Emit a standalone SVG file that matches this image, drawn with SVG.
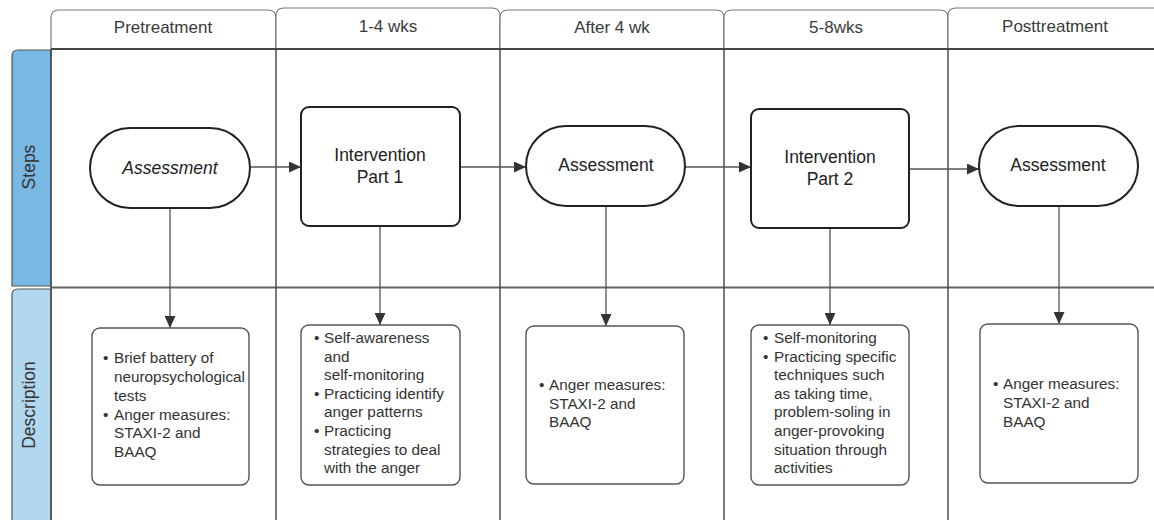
<svg xmlns="http://www.w3.org/2000/svg" width="1154" height="520" viewBox="0 0 1154 520">
<style>
text{font-family:"Liberation Sans",Arial,sans-serif;fill:#333}
.hdr{fill:#fff;stroke:#7a7a7a;stroke-width:1.2}
.ht{font-size:17px;text-anchor:middle;fill:#3a3a3a}
.lane{stroke:#444;stroke-width:1.4;fill:none}
.node{fill:#fff;stroke:#222;stroke-width:2}
.nt{font-size:17.5px;text-anchor:middle;fill:#222}
.desc{fill:#fff;stroke:#555;stroke-width:1.4}
.dt{font-size:15.3px}
.conn{stroke:#555;stroke-width:1.3;fill:none}
</style>
<defs>
<marker id="ah" viewBox="0 0 12 11" refX="12" refY="5.5" markerWidth="12" markerHeight="11" markerUnits="userSpaceOnUse" orient="auto">
<path d="M0,0 L12,5.5 L0,11 Z" fill="#333"/>
</marker>
</defs>
<rect width="1154" height="520" fill="#fff"/>

<g id="headers">
<path class="hdr" d="M51,49 V18 Q51,10 59,10 H268 Q276,10 276,18 V49"/>
<path class="hdr" d="M276,49 V16 Q276,8 284,8 H492 Q500,8 500,16 V49"/>
<path class="hdr" d="M500,49 V18 Q500,10 508,10 H716 Q724,10 724,18 V49"/>
<path class="hdr" d="M724,49 V18 Q724,10 732,10 H940 Q948,10 948,18 V49"/>
<path class="hdr" d="M948,49 V16 Q948,8 956,8 H1160 V49"/>
<text class="ht" x="163" y="33">Pretreatment</text>
<text class="ht" x="388" y="32">1-4 wks</text>
<text class="ht" x="612" y="33">After 4 wk</text>
<text class="ht" x="836" y="33">5-8wks</text>
<text class="ht" x="1055" y="32">Posttreatment</text>
</g>

<g id="lanes">
<path d="M12,286 V56 Q12,50 18,50 H51 V286 Z" fill="#7ab8e4" stroke="#555" stroke-width="1.2"/>
<path d="M12,530 V295 Q12,289 18,289 H51 V530 Z" fill="#b2d8f0" stroke="#555" stroke-width="1.2"/>
<text transform="translate(35,167) rotate(-90)" font-size="17.5" text-anchor="middle">Steps</text>
<text transform="translate(35,405) rotate(-90)" font-size="17.5" text-anchor="middle">Description</text>
<line x1="51" y1="49" x2="1154" y2="49" stroke="#444" stroke-width="2"/>
<line x1="51" y1="287.5" x2="1154" y2="287.5" stroke="#666" stroke-width="1.8"/>
<line class="lane" x1="51" y1="49" x2="51" y2="520"/>
<line class="lane" x1="276" y1="49" x2="276" y2="520"/>
<line class="lane" x1="500" y1="49" x2="500" y2="520"/>
<line class="lane" x1="724" y1="49" x2="724" y2="520"/>
<line class="lane" x1="948" y1="49" x2="948" y2="520"/>
</g>

<g id="connectors">
<line class="conn" x1="250" y1="167" x2="301" y2="167" marker-end="url(#ah)"/>
<line class="conn" x1="460" y1="167" x2="526" y2="167" marker-end="url(#ah)"/>
<line class="conn" x1="685" y1="167" x2="751" y2="167" marker-end="url(#ah)"/>
<line class="conn" x1="909" y1="169" x2="979" y2="169" marker-end="url(#ah)"/>
<line class="conn" x1="170" y1="208" x2="170" y2="328" marker-end="url(#ah)"/>
<line class="conn" x1="380" y1="226" x2="380" y2="325" marker-end="url(#ah)"/>
<line class="conn" x1="606" y1="206" x2="606" y2="326" marker-end="url(#ah)"/>
<line class="conn" x1="830" y1="228" x2="830" y2="325" marker-end="url(#ah)"/>
<line class="conn" x1="1059" y1="206" x2="1059" y2="324" marker-end="url(#ah)"/>
</g>

<g id="assessment1">
<rect class="node" x="90" y="128" width="160" height="80" rx="40"/>
<text class="nt" x="170" y="174" font-style="italic">Assessment</text>
</g>
<g id="intervention1">
<rect class="node" x="301" y="107" width="159" height="119" rx="8"/>
<text class="nt" x="380" y="161">Intervention</text>
<text class="nt" x="380" y="183">Part 1</text>
</g>
<g id="assessment2">
<rect class="node" x="526" y="126" width="159" height="80" rx="40"/>
<text class="nt" x="606" y="171">Assessment</text>
</g>
<g id="intervention2">
<rect class="node" x="751" y="109" width="158" height="119" rx="8"/>
<text class="nt" x="830" y="163">Intervention</text>
<text class="nt" x="830" y="185">Part 2</text>
</g>
<g id="assessment3">
<rect class="node" x="979" y="126" width="159" height="80" rx="40"/>
<text class="nt" x="1058" y="171">Assessment</text>
</g>

<g id="desc1">
<rect class="desc" x="92" y="328" width="157" height="157" rx="8"/>
<text class="dt"><tspan x="103" y="363">•</tspan><tspan x="114" y="363">Brief battery of</tspan><tspan x="114" y="382">neuropsychological</tspan><tspan x="114" y="401">tests</tspan><tspan x="103" y="420">•</tspan><tspan x="114" y="420">Anger measures:</tspan><tspan x="114" y="438">STAXI-2 and</tspan><tspan x="114" y="457">BAAQ</tspan></text>
</g>
<g id="desc2">
<rect class="desc" x="301" y="325" width="159" height="160" rx="8"/>
<text class="dt"><tspan x="314" y="343">•</tspan><tspan x="324" y="343">Self-awareness</tspan><tspan x="324" y="362">and</tspan><tspan x="324" y="380">self-monitoring</tspan><tspan x="314" y="399">•</tspan><tspan x="324" y="399">Practicing identify</tspan><tspan x="324" y="417">anger patterns</tspan><tspan x="314" y="436">•</tspan><tspan x="324" y="436">Practicing</tspan><tspan x="324" y="455">strategies to deal</tspan><tspan x="324" y="473">with the anger</tspan></text>
</g>
<g id="desc3">
<rect class="desc" x="526" y="326" width="158" height="158" rx="8"/>
<text class="dt"><tspan x="539" y="390">•</tspan><tspan x="549" y="390">Anger measures:</tspan><tspan x="549" y="409">STAXI-2 and</tspan><tspan x="549" y="427">BAAQ</tspan></text>
</g>
<g id="desc4">
<rect class="desc" x="751" y="325" width="158" height="160" rx="8"/>
<text class="dt"><tspan x="763" y="343">•</tspan><tspan x="774" y="343">Self-monitoring</tspan><tspan x="763" y="362">•</tspan><tspan x="774" y="362">Practicing specific</tspan><tspan x="774" y="380">techniques such</tspan><tspan x="774" y="399">as taking time,</tspan><tspan x="774" y="417">problem-soling in</tspan><tspan x="774" y="436">anger-provoking</tspan><tspan x="774" y="455">situation through</tspan><tspan x="774" y="473">activities</tspan></text>
</g>
<g id="desc5">
<rect class="desc" x="980" y="324" width="158" height="159" rx="8"/>
<text class="dt"><tspan x="993" y="389">•</tspan><tspan x="1003" y="389">Anger measures:</tspan><tspan x="1003" y="408">STAXI-2 and</tspan><tspan x="1003" y="427">BAAQ</tspan></text>
</g>
</svg>
